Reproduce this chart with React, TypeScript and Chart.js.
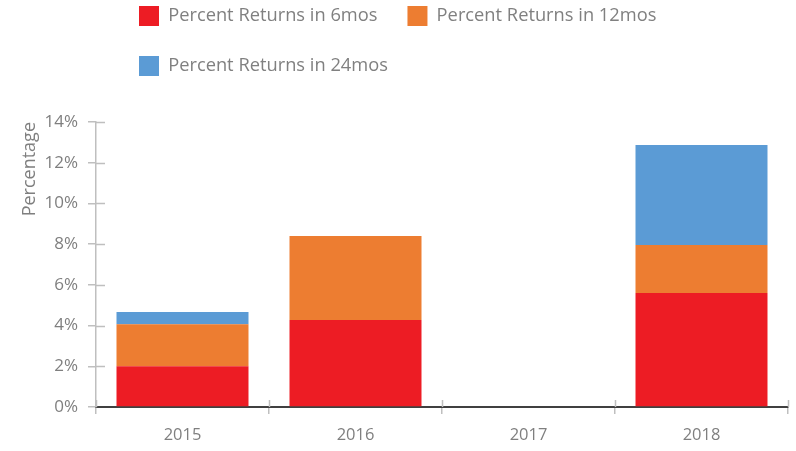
import React, { useEffect, useRef } from "react";
import { Chart, registerables } from "chart.js";

Chart.register(...registerables);

const categories = ["2015", "2016", "2017", "2018"];
const seriesLabels = [
  "Percent Returns in 6mos",
  "Percent Returns in 12mos",
  "Percent Returns in 24mos",
];
const returns6mos = [2.0, 4.27, 0, 5.6];
const returns12mos = [2.07, 4.13, 0, 2.36];
const returns24mos = [0.6, 0, 0, 4.91];
const yTickValues = [0, 2, 4, 6, 8, 10, 12, 14];

const colors = ["#ED1C24", "#ED7D31", "#5B9BD5"];
const FONT = "'Open Sans', sans-serif";

const legendShift = {
  id: "legendShift",
  afterLayout(chart: any) {
    const l = chart.legend;
    if (l) {
      l.left += 109;
      l.top -= 36;
      l.bottom -= 36;
    }
  },
};

// tick marks that cross the axis lines (inner half)
const innerTicks = {
  id: "innerTicks",
  afterDraw(chart: any) {
    const { ctx, chartArea, scales } = chart;
    ctx.save();
    ctx.strokeStyle = "#bfbfbf";
    ctx.lineWidth = 1.5;
    const y = scales.y;
    y.ticks.forEach((t: any) => {
      const py = Math.round(y.getPixelForValue(t.value)) + 0.5;
      if (t.value === 0) return;
      ctx.beginPath();
      ctx.moveTo(chartArea.left, py);
      ctx.lineTo(chartArea.left + 9, py);
      ctx.stroke();
    });
    const x = scales.x;
    const n = x.ticks.length;
    for (let i = 0; i <= n; i++) {
      const px =
        i < n
          ? x.getPixelForTick(i) - (x.getPixelForTick(1) - x.getPixelForTick(0)) / 2
          : x.right;
      ctx.beginPath();
      ctx.moveTo(Math.round(px) + 0.5, chartArea.bottom - 7);
      ctx.lineTo(Math.round(px) + 0.5, chartArea.bottom);
      ctx.stroke();
    }
    ctx.restore();
  },
};

export default function App() {
  const ref = useRef<HTMLCanvasElement>(null);
  useEffect(() => {
    document.body.style.margin = "0";
    const ctx = ref.current!;
    const chart = new Chart(ctx, {
      type: "bar",
      data: {
        labels: categories,
        datasets: [returns6mos, returns12mos, returns24mos].map((d, i) => ({
          label: seriesLabels[i],
          data: d,
          backgroundColor: colors[i],
          borderWidth: 0,
          barPercentage: 0.763,
          categoryPercentage: 1,
        })),
      },
      options: {
        animation: false,
        responsive: false,
        layout: { padding: { left: 0, right: 8, top: 12, bottom: 0 } },
        plugins: {
          tooltip: { enabled: false },
          legend: {
            position: "top",
            align: "start",
            labels: {
              boxWidth: 20,
              boxHeight: 20,
              padding: 30,
              color: "#808080",
              font: { family: FONT, size: 18.3 },
            },
          },
        },
        scales: {
          x: {
            stacked: true,
            grid: {
              display: true,
              offset: true,
              drawOnChartArea: false,
              drawTicks: true,
              tickLength: 7,
              color: "#bfbfbf",
              lineWidth: 1.5,
            },
            border: { display: true, color: "#404040", width: 2 },
            ticks: {
              color: "#7f7f7f",
              font: { family: FONT, size: 16.5 },
              padding: 11,
            },
            afterFit: (s: any) => {
              s.height = 44;
            },
          },
          y: {
            stacked: true,
            min: 0,
            max: 14,
            afterBuildTicks: (s: any) => {
              s.ticks = yTickValues.map((v) => ({ value: v }));
            },
            grid: {
              display: true,
              drawOnChartArea: false,
              drawTicks: true,
              tickLength: 8,
              color: "#bfbfbf",
              lineWidth: 1.5,
            },
            border: { display: true, color: "#bfbfbf", width: 1.5 },
            ticks: {
              color: "#7f7f7f",
              font: { family: FONT, size: 17 },
              padding: 10,
              callback: (v: any) => v + "%",
            },
            title: {
              display: true,
              text: "Percentage",
              align: "end",
              color: "#7f7f7f",
              font: { family: FONT, size: 18 },
              padding: { top: 19, bottom: 4 },
            },
            afterFit: (s: any) => {
              s.width = 96;
            },
          },
        },
      },
      plugins: [legendShift, innerTicks],
    });
    return () => chart.destroy();
  }, []);
  return (
    <div style={{ width: 796, height: 451 }}>
      <canvas ref={ref} width={796} height={451} />
    </div>
  );
}
